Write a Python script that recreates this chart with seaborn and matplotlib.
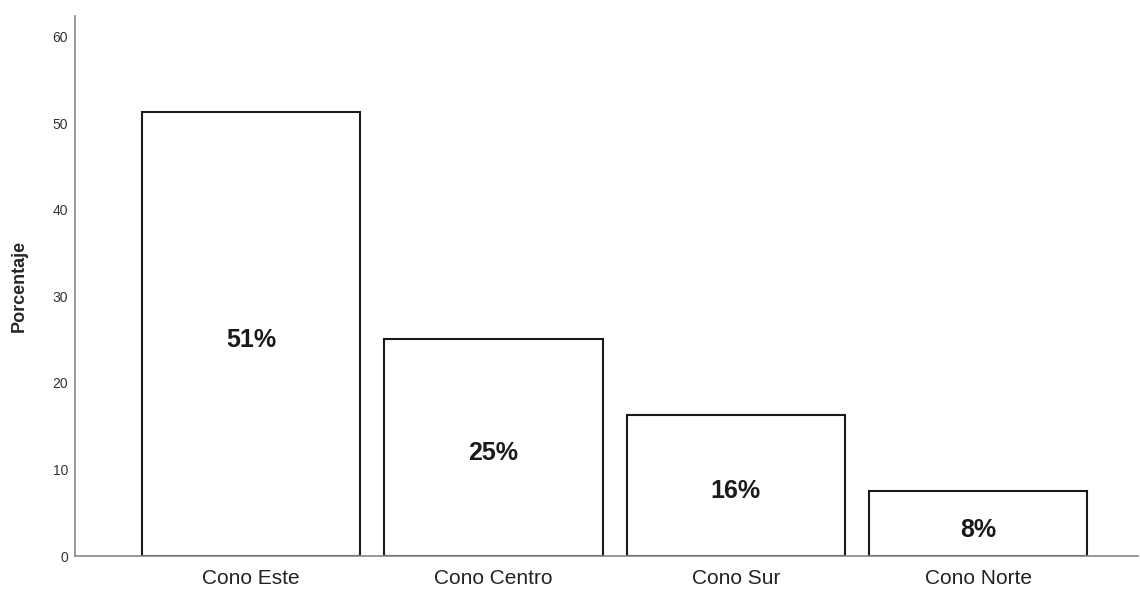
import pandas as pd
import seaborn as sns
import matplotlib.pyplot as plt

zonas = ['Cono Este', 'Cono Centro', 'Cono Sur', 'Cono Norte']
porcentajes = [51.3, 25.1, 16.3, 7.5]
etiquetas = ['51%', '25%', '16%', '8%']

df = pd.DataFrame({'zona': zonas, 'porcentaje': porcentajes})

sns.set_style('white')
plt.rcParams['font.family'] = ['Liberation Sans', 'DejaVu Sans']

fig = plt.figure(figsize=(11.4, 5.89), dpi=100)
ax = fig.add_axes([75 / 1140, 33 / 589, 1063 / 1140, 540 / 589])

sns.barplot(x='zona', y='porcentaje', data=df, color='white', edgecolor='#1a1a1a',
            linewidth=1.5, width=0.9, ax=ax)

# percentage labels in the middle of each bar
for bar, txt in zip(ax.patches, etiquetas):
    ax.annotate(txt, (bar.get_x() + bar.get_width() / 2, bar.get_height() / 2),
                xytext=(0, -2.5), textcoords='offset points',
                ha='center', va='center_baseline', fontsize=18, fontweight='bold',
                color='#1a1a1a')

ax.set_xlim(-0.727, 3.66)
ax.set_ylim(0, 62.4)
ax.set_yticks(range(0, 61, 10))
ax.tick_params(axis='y', labelsize=10, length=0, pad=5, labelcolor='#333333')
ax.tick_params(axis='x', labelsize=15, length=0, pad=9, labelcolor='#222222')
ax.set_xlabel('')
ax.set_ylabel('Porcentaje', fontsize=13, fontweight='bold', labelpad=18)

for s in ['top', 'right']:
    ax.spines[s].set_visible(False)
for s in ['left', 'bottom']:
    ax.spines[s].set_color('#888888')
    ax.spines[s].set_linewidth(1.2)

fig.savefig('out.png', dpi=100)
